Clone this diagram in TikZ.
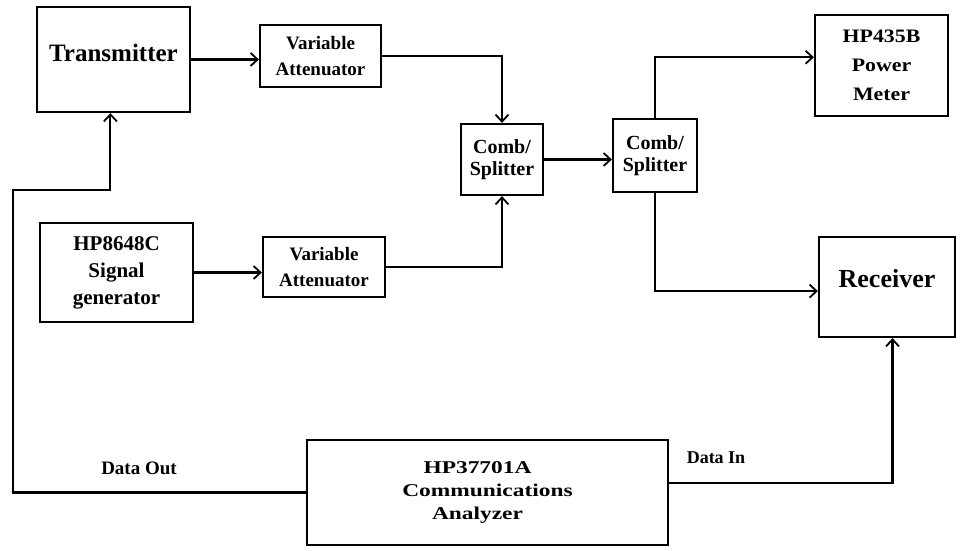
\documentclass[tikz,border=0pt]{standalone}
\usepackage{fontspec}
\setmainfont{Liberation Serif}
\newfontfamily\widefont[FakeStretch=1.3]{Liberation Serif}
\newfontfamily\midfont[FakeStretch=1.15]{Liberation Serif}
\usetikzlibrary{arrows.meta,calc}
\tikzset{
  box/.style={draw, line width=2.2pt, inner sep=0pt, align=center},
  conn/.style={line width=2.2pt, -{Straight Barb[length=7pt,width=13pt,line width=1.8pt]}},
  lbl/.style={font=\bfseries\fontsize{19}{22}\selectfont}
}
\begin{document}
\begin{tikzpicture}[x=1pt,y=-1pt]
\useasboundingbox (0,0) rectangle (961,550);
% boxes
\node[box, minimum width=153, minimum height=105, text height=18pt, text depth=14pt,
      font=\bfseries\fontsize{25}{28}\selectfont] (tx) at (113.5,59.5) {Transmitter};
\node[box, minimum width=121, minimum height=62,
      font=\bfseries\fontsize{19}{26}\selectfont] (va1) at (320.5,56) {Variable\\Attenuator};
\node[box, minimum width=82, minimum height=71,
      font=\bfseries\fontsize{20}{22}\selectfont] (cs1) at (502,159.5) {Comb/\\Splitter};
\node[box, minimum width=84, minimum height=73,
      font=\bfseries\fontsize{20}{22}\selectfont] (cs2) at (655,155.5) {Comb/\\Splitter};
\node[box, minimum width=133, minimum height=101,
      font=\midfont\bfseries\fontsize{19}{29}\selectfont] (pm) at (881.5,65.5) {HP435B\\Power\\Meter};
\node[box, minimum width=153, minimum height=99,
      font=\bfseries\fontsize{21}{27}\selectfont] (sg) at (116.5,272.5) {HP8648C\\Signal\\generator};
\node[box, minimum width=122, minimum height=60,
      font=\bfseries\fontsize{19}{26}\selectfont] (va2) at (324,267) {Variable\\Attenuator};
\node[box, minimum width=136, minimum height=100, text height=18pt, text depth=18pt,
      font=\bfseries\fontsize{26}{29}\selectfont] (rx) at (887,287) {Receiver};
\node[box, minimum width=361, minimum height=105,
      font=\widefont\bfseries\fontsize{18}{23}\selectfont] (an) at (487.5,492.5)
      {HP37701A\hspace*{20pt}\\Communications\hspace*{20pt}\\Analyzer\hspace*{20pt}};
% helper coordinates
\coordinate (pmin) at ($(pm.north west)!0.42!(pm.south west)$);
\coordinate (rxin) at ($(rx.north west)!0.54!(rx.south west)$);
\coordinate (txin) at ($(tx.south west)!0.48!(tx.south east)$);
\coordinate (rxbot) at ($(rx.south west)!0.54!(rx.south east)$);
\coordinate (anout) at ($(an.north east)!0.41!(an.south east)$);
\coordinate (lc) at (13,190);
% connectors
\draw[conn] (tx.east) -- (va1.west |- tx.east);
\draw[conn] (va1.east) -| (cs1.north);
\draw[conn] (sg.east) -- (va2.west |- sg.east);
\draw[conn] (va2.east) -| (cs1.south);
\draw[conn] (cs1.east) -- (cs2.west |- cs1.east);
\draw[conn] (cs2.north) |- (pmin);
\draw[conn] (cs2.south) |- (rxin);
\draw[conn] (an.west) -| (lc) -| (txin);
\draw[conn] (anout) -| (rxbot);
% labels
\node[lbl] (dout) at (139,468) {Data Out};
\node[lbl, font=\bfseries\fontsize{18}{21}\selectfont] (din) at (716,458) {Data In};
\end{tikzpicture}
\end{document}
